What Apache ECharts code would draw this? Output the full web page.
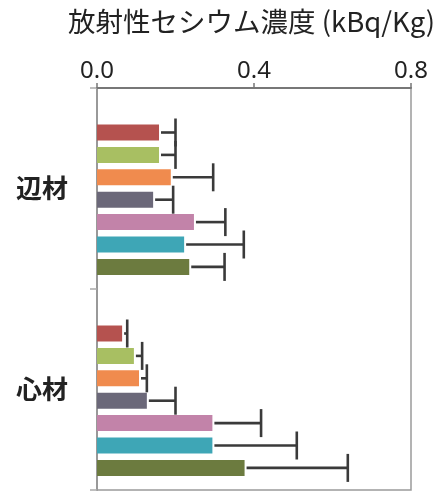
<!DOCTYPE html>
<html>
<head>
<meta charset="utf-8">
<script src="https://cdn.jsdelivr.net/npm/echarts@6/dist/echarts.min.js"></script>
<style>html,body{margin:0;padding:0;background:#fff;}#c{width:436px;height:492px;}</style>
</head>
<body>
<div id="c"></div>
<script>
// ---- data ----
const categories = ['辺材', '心材'];
const xTicks = [0.0, 0.4, 0.8];
const titleText = '放射性セシウム濃度 (kBq/Kg)';
// mean values per series: [辺材, 心材]
const s1 = [0.158, 0.064];
const s2 = [0.158, 0.094];
const s3 = [0.188, 0.107];
const s4 = [0.143, 0.127];
const s5 = [0.247, 0.294];
const s6 = [0.222, 0.294];
const s7 = [0.235, 0.376];
// error (+) per series: [辺材, 心材]
const e1 = [0.042, 0.013];
const e2 = [0.042, 0.021];
const e3 = [0.108, 0.020];
const e4 = [0.051, 0.073];
const e5 = [0.080, 0.124];
const e6 = [0.152, 0.215];
const e7 = [0.090, 0.263];

const means = [s1, s2, s3, s4, s5, s6, s7];
const errs = [e1, e2, e3, e4, e5, e6, e7];
const colors = ['#b5524f', '#a8bf62', '#f08b4e', '#6b6879', '#c283a9', '#3ea6b6', '#6c7b3f'];

const BW = 16, GAP = 6.4, SLOTS = 8;

const chart = echarts.init(document.getElementById('c'));

const barSeries = means.map((m, i) => ({
  type: 'bar',
  data: m,
  barWidth: BW,
  barGap: (GAP / BW * 100) + '%',
  itemStyle: { color: colors[i] },
  silent: true
}));

const errData = [];
means.forEach((m, s) => {
  m.forEach((v, c) => { errData.push([c, s, v, errs[s][c]]); });
});

const errSeries = {
  type: 'custom',
  data: errData,
  encode: { y: 0, x: 2 },
  z: 5,
  renderItem: function (params, api) {
    const cat = api.value(0), s = api.value(1), v = api.value(2), e = api.value(3);
    const center = api.coord([0, cat])[1];
    const total = SLOTS * BW + (SLOTS - 1) * GAP;
    const yc = center - total / 2 + (s + 1) * (BW + GAP) + BW / 2;
    const x1 = api.coord([v, cat])[0] + 2;
    const x2 = api.coord([v + e, cat])[0];
    const st = { stroke: '#3a3a3a', lineWidth: 2.6 };
    return {
      type: 'group',
      children: [
        { type: 'line', shape: { x1: x1, y1: yc, x2: x2, y2: yc }, style: st },
        { type: 'line', shape: { x1: x2, y1: yc - 14, x2: x2, y2: yc + 14 }, style: st }
      ]
    };
  }
};

chart.setOption({
  animation: false,
  backgroundColor: '#fff',
  title: {
    text: titleText,
    left: 63,
    top: 3,
    textStyle: { fontFamily: 'Noto Sans CJK JP', fontSize: 27.5, fontWeight: 'normal', color: '#222' }
  },
  grid: { left: 97, right: 25, top: 88, bottom: 2, show: true, borderColor: '#9a9a9a', borderWidth: 1.5 },
  xAxis: {
    type: 'value',
    position: 'top',
    min: xTicks[0],
    max: xTicks[xTicks.length - 1],
    interval: xTicks[1] - xTicks[0],
    axisLine: { show: true, lineStyle: { color: '#777', width: 2 } },
    axisTick: { show: true, length: 5, lineStyle: { color: '#777', width: 1.5 } },
    splitLine: { show: false },
    axisLabel: { fontFamily: 'Noto Sans', fontSize: 24, color: '#222', margin: 5, formatter: v => v.toFixed(1) }
  },
  yAxis: {
    type: 'category',
    inverse: true,
    data: categories,
    axisLine: { show: true, lineStyle: { color: '#999', width: 2 } },
    axisTick: { show: true, length: 7, lineStyle: { color: '#aaa', width: 1.5 } },
    axisLabel: { fontFamily: 'Noto Sans CJK JP', fontSize: 26, fontWeight: 'bold', color: '#222', margin: 29 }
  },
  series: [
    { type: 'bar', data: ['-', '-'], barWidth: BW, barGap: (GAP / BW * 100) + '%', silent: true }
  ].concat(barSeries, [errSeries])
});
</script>
</body>
</html>
